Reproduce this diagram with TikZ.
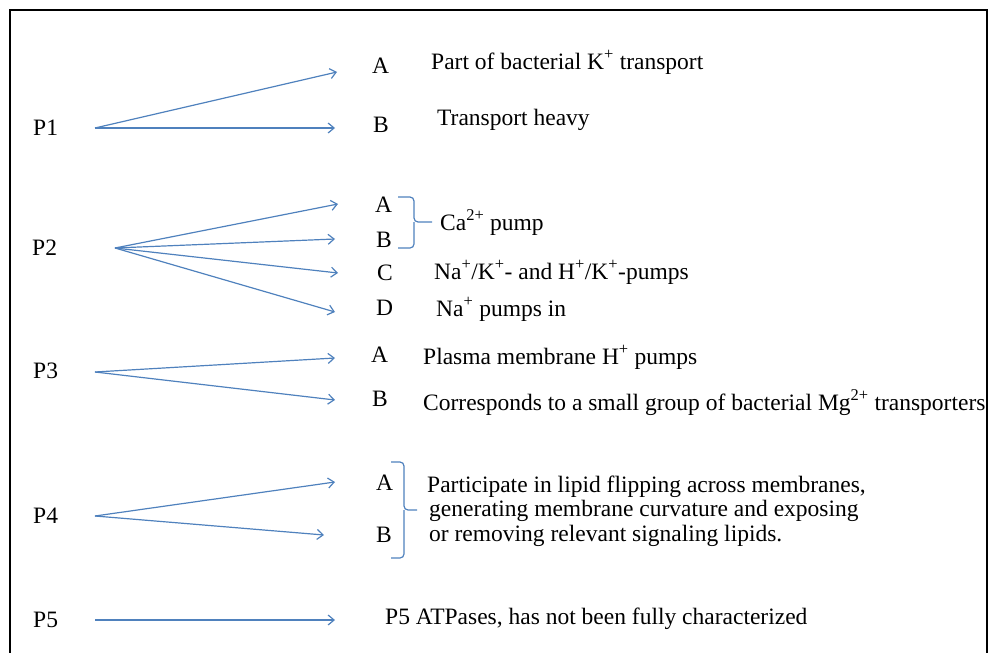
\documentclass[tikz,border=0pt]{standalone}
\usepackage{fontspec}
\setmainfont{Liberation Serif}
\usetikzlibrary{arrows.meta}
\definecolor{linkblue}{RGB}{79,129,189}
\tikzset{
  txt/.style={anchor=base west, inner sep=0pt},
  fan/.style={draw=linkblue, line width=1.2pt, -{Straight Barb[length=6pt,width=10pt,line width=1.2pt]}},
  clamp/.style={draw=linkblue, line width=1.2pt, rounded corners=4pt},
}
\begin{document}
\begin{tikzpicture}[x=1pt, y=-1pt, font=\fontsize{23.5}{28}\selectfont]
    \useasboundingbox (0,0) rectangle (989,653);
    \draw[line width=1.5pt] (10,653) -- (10,10) -- (987,10) -- (987,653);

    % families
    \node[txt] (p1) at (33,135) {P1};
    \node[txt] (p2) at (32,255) {P2};
    \node[txt] (p3) at (33,378) {P3};
    \node[txt] (p4) at (33,523) {P4};
    \node[txt] (p5) at (33,627) {P5};

    % subfamilies
    \node[txt] (p1a) at (372,73) {A};
    \node[txt] (p1b) at (373,132) {B};
    \node[txt] (p2a) at (375,212) {A};
    \node[txt] (p2b) at (376,247) {B};
    \node[txt] (p2c) at (377,280) {C};
    \node[txt] (p2d) at (376,315) {D};
    \node[txt] (p3a) at (371,362) {A};
    \node[txt] (p3b) at (372,406) {B};
    \node[txt] (p4a) at (376,490) {A};
    \node[txt] (p4b) at (376,542) {B};

    % descriptions
    \node[txt] (p1atext) at (431,69) {Part of bacterial K\textsuperscript{+} transport};
    \node[txt] (p1btext) at (437,125) {Transport heavy};
    \node[txt] (p2abtext) at (440,230) {Ca\textsuperscript{2+} pump};
    \node[txt] (p2ctext) at (434,279) {Na\textsuperscript{+}/K\textsuperscript{+}- and H\textsuperscript{+}/K\textsuperscript{+}-pumps};
    \node[txt] (p2dtext) at (436,316) {Na\textsuperscript{+} pumps in};
    \node[txt] (p3atext) at (423,364) {Plasma membrane H\textsuperscript{+} pumps};
    \node[txt] (p3btext) at (423,410) {Corresponds to a small group of bacterial Mg\textsuperscript{2+} transporters};
    \node[txt] (p4text1) at (427,492) {Participate in lipid flipping across membranes,};
    \node[txt] (p4text2) at (429,516) {generating membrane curvature and exposing};
    \node[txt] (p4text3) at (429,541) {or removing relevant signaling lipids.};
    \node[txt] (p5text) at (385,624) {P5 ATPases, has not been fully characterized};

    % fan roots and tips
    \coordinate (r1) at (95,128);
    \coordinate (r2) at (115,248);
    \coordinate (r3) at (95,372);
    \coordinate (r4) at (95,516);
    \coordinate (r5) at (95,620);
    \coordinate (e1a) at (337,72);
    \coordinate (e2a) at (338,204);
    \coordinate (e2b) at (335,239);
    \coordinate (e2c) at (338,273);
    \coordinate (e2d) at (335,312);
    \coordinate (e3a) at (335,358);
    \coordinate (e3b) at (335,400);
    \coordinate (e4a) at (335,482);
    \coordinate (e4b) at (324,535);

    \draw[fan] (r1) -- (e1a);
    \draw[fan] (r1) -- (r1 -| p1b.west) [shorten >=38pt];
    \foreach \e in {e2a,e2b,e2c,e2d}
        \draw[fan] (r2) -- (\e);
    \draw[fan] (r3) -- (e3a);
    \draw[fan] (r3) -- (e3b);
    \draw[fan] (r4) -- (e4a);
    \draw[fan] (r4) -- (e4b);
    \draw[fan, shorten >=50pt] (r5) -- (r5 -| p5text.west);

    % braces
    \draw[clamp] (398,197) -- (414,197) -- (414,222) -- (432,222);
    \draw[clamp] (398,248) -- (414,248) -- (414,222);
    \draw[clamp] (391,462) -- (404,462) -- (404,510) -- (417,510);
    \draw[clamp] (391,558) -- (404,558) -- (404,510);

\end{tikzpicture}
\end{document}
